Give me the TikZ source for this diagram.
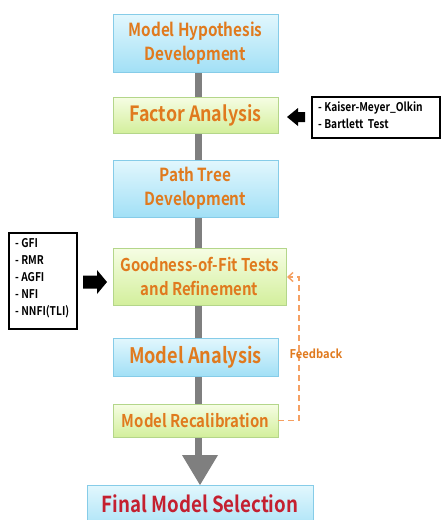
\documentclass[tikz,border=0pt]{standalone}
\usepackage{fontspec}
\setmainfont{Noto Sans CJK KR}[BoldFont={Noto Sans CJK KR Bold}, FakeStretch=0.85]
\newfontfamily\fbfont{Noto Sans CJK KR Bold}[FakeStretch=0.93]
\usetikzlibrary{shadows,arrows.meta}
\definecolor{btop}{HTML}{E2F7FD}
\definecolor{bbot}{HTML}{A2E0F6}
\definecolor{bline}{HTML}{86CCE8}
\definecolor{gtop}{HTML}{F6FDE4}
\definecolor{gbot}{HTML}{D3EF9C}
\definecolor{gline}{HTML}{B4D68A}
\definecolor{otext}{HTML}{E07A1E}
\definecolor{rtext}{HTML}{C42030}
\definecolor{fdash}{HTML}{F5A062}
\definecolor{bargray}{HTML}{7F7F7F}
\tikzset{
  boxbase/.style={rectangle, inner sep=0pt, align=center, line width=0.8pt,
    drop shadow={shadow xshift=1.2pt, shadow yshift=-1.2pt, opacity=0.25}},
  bluebox/.style={boxbase, draw=bline, top color=btop, bottom color=bbot},
  greenbox/.style={boxbase, draw=gline, top color=gtop, bottom color=gbot},
  otxt/.style={text=otext},
  listbox/.style={draw=black, line width=1.3pt, fill=white, inner sep=0pt},
  listtxt/.style={font=\fontsize{12}{17}\selectfont\bfseries, align=left, inner sep=0pt, anchor=north west},
}
\begin{document}
\begin{tikzpicture}[x=1pt,y=-1pt]
\useasboundingbox (0,0) rectangle (441,520);
\fill[white] (0,0) rectangle (441,520);
% central bar and final arrow
\fill[bargray] (195,70) rectangle (202,456);
\fill[bargray] (182,455) -- (218,455) -- (200,485) -- cycle;
% boxes
\node[bluebox, minimum width=165pt, minimum height=58pt, otxt,
  font=\fontsize{18}{24}\selectfont\bfseries] (b1) at (195.5,43) {Model Hypothesis\\Development};
\node[greenbox, minimum width=165pt, minimum height=36pt, otxt,
  font=\fontsize{21}{26}\selectfont\bfseries] (b2) at (195.5,115) {Factor Analysis};
\node[bluebox, minimum width=165pt, minimum height=57pt, otxt,
  font=\fontsize{18}{24}\selectfont\bfseries] (b3) at (195.5,188.5) {Path Tree\\Development};
\node[greenbox, minimum width=173pt, minimum height=57pt, otxt,
  font=\fontsize{17.6}{24.5}\selectfont\bfseries] (b4) at (199.5,276.5) {Goodness-of-Fit Tests\\and Refinement};
\node[bluebox, minimum width=165pt, minimum height=38pt, otxt,
  font=\fontsize{21.4}{26}\selectfont\bfseries] (b5) at (195.5,357) {Model Analysis};
\node[greenbox, minimum width=165pt, minimum height=33pt, otxt,
  font=\fontsize{17.6}{22}\selectfont\bfseries] (b6) at (195.5,420.5) {Model Recalibration};
\node[bluebox, minimum width=226pt, minimum height=50pt] (fin) at (200,510) {};
\node[text=rtext, font=\fontsize{22}{28}\selectfont\bfseries, inner sep=0pt] (fint) at (200,504) {Final Model Selection};
% feedback
\coordinate (fb1) at (299,420.5);
\coordinate (fb2) at (299,277);
\coordinate (fb3) at (287,277);
\draw[fdash, line width=1.4pt, dash pattern=on 6pt off 4pt, -{Straight Barb[length=5pt,width=9pt]}]
  (b6.east) -- (fb1) -- (fb2) -- (fb3);
\node[text=otext, font=\fontsize{12}{14}\selectfont\fbfont, inner sep=0pt] (fbl) at (316,354) {Feedback};
% KMO box
\node[listbox, minimum width=128pt, minimum height=41pt] (kmo) at (376,117.5) {};
\node[listtxt] (kmot) at (318,102) {- Kaiser-Meyer\_Olkin\\- Bartlett\ \ Test};
\fill[black] (287,117) -- (298,108) -- (298,112) -- (305,112) -- (305,122) -- (298,122) -- (298,126) -- cycle;
% GFI box
\node[listbox, minimum width=68pt, minimum height=96pt] (gfi) at (43,281) {};
\node[listtxt] (gfit) at (15,238) {- GFI\\- RMR\\- AGFI\\- NFI\\- NNFI(TLI)};
\fill[black] (107,282) -- (97,270) -- (97,275.5) -- (83,275.5) -- (83,288.5) -- (97,288.5) -- (97,294) -- cycle;
\end{tikzpicture}
\end{document}
